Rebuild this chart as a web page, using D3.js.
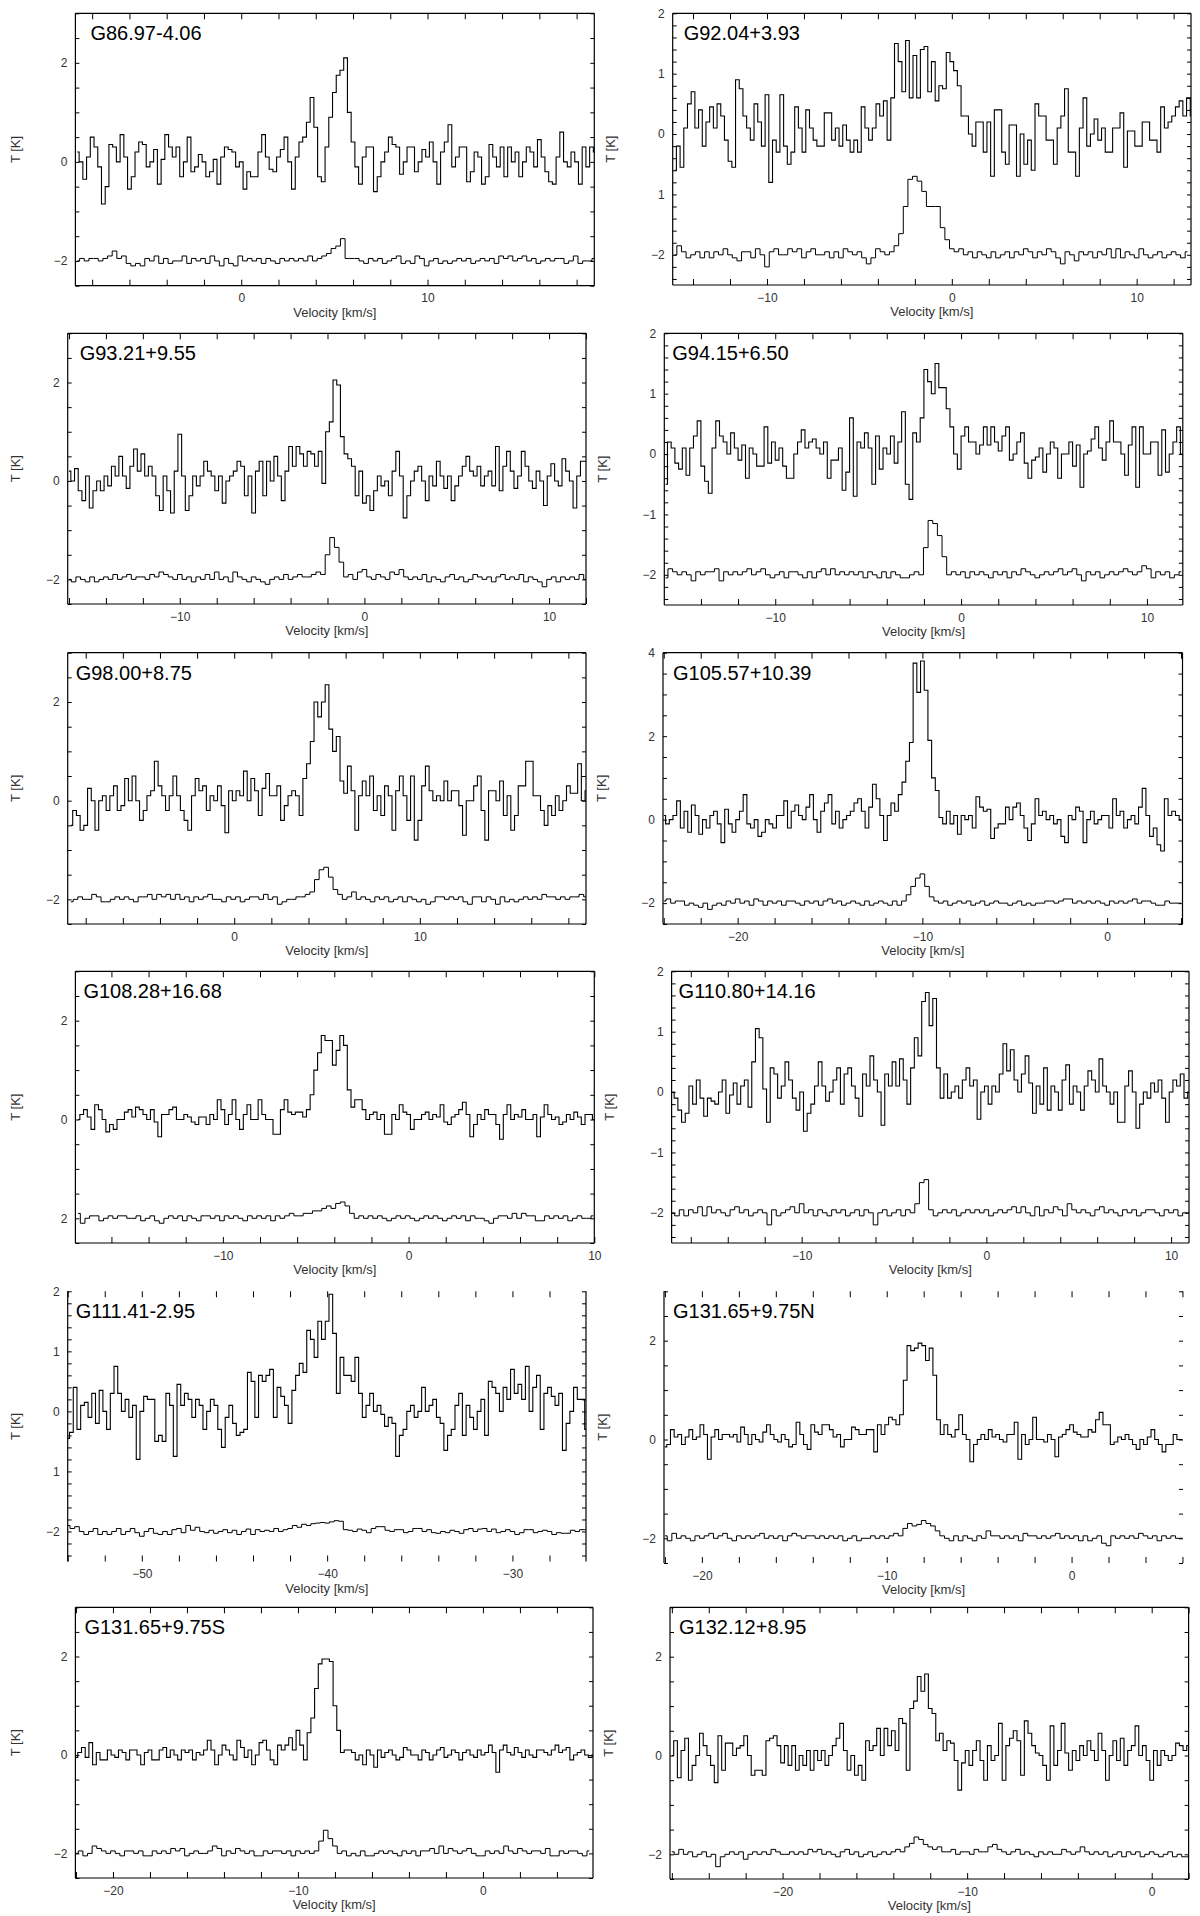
<!DOCTYPE html>
<html><head><meta charset="utf-8">
<script src="https://cdn.jsdelivr.net/npm/d3@7"></script>
<style>body{margin:0;background:#fff}svg{display:block}</style>
</head><body>
<svg id="c" width="1200" height="1916"></svg>
<script>
// ---------- data ----------
const UP_STEP = 0.2, LO_STEP = 0.25;   // channel widths, km/s
const names = ["G86.97-4.06","G92.04+3.93","G93.21+9.55","G94.15+6.50","G98.00+8.75","G105.57+10.39",
  "G108.28+16.68","G110.80+14.16","G111.41-2.95","G131.65+9.75N","G131.65+9.75S","G132.12+8.95"];

const P1_up = [0.2,0.0,-0.35,0.1,0.5,0.3,-0.1,-0.85,-0.5,0.35,0.3,0.0,0.55,0.1,-0.55,-0.3,0.2,0.4,0.35,-0.1,0.0,0.25,-0.45,0.05,0.55,0.3,0.1,0.3,-0.3,0.0,0.5,-0.2,-0.1,0.15,0.0,-0.3,-0.2,0.05,-0.45,0.1,0.3,0.25,0.2,-0.1,0.0,-0.55,-0.2,-0.3,-0.3,0.2,0.55,0.1,-0.15,-0.2,0.1,0.25,0.5,0.0,-0.55,0.1,0.4,0.5,0.8,1.3,0.7,-0.3,-0.4,0.3,0.9,1.4,1.75,1.85,2.1,1.0,0.4,-0.1,-0.45,0.1,0.3,0.3,-0.6,-0.3,0.0,0.2,0.5,0.35,0.3,-0.25,0.0,0.3,0.3,-0.2,0.0,0.25,0.1,0.4,0.0,-0.45,0.2,0.4,0.75,-0.1,0.1,0.3,0.3,-0.4,-0.2,0.2,0.1,-0.45,-0.3,0.35,0.1,-0.1,0.3,-0.3,0.3,0.0,0.2,-0.3,0.0,0.3,0.2,-0.1,0.45,0.1,-0.2,-0.4,-0.45,0.1,0.6,0.0,-0.1,0.2,0.0,-0.45,0.3,-0.1,0.3,0.2];
const P1_lo = [-2.0,-1.95,-2.0,-1.95,-1.95,-2.0,-1.95,-1.9,-1.8,-1.95,-1.9,-2.05,-2.1,-2.05,-2.1,-1.95,-2.0,-1.9,-2.05,-1.95,-2.05,-2.0,-2.0,-1.9,-2.05,-1.95,-2.0,-1.95,-2.05,-1.9,-2.0,-2.1,-1.95,-2.05,-2.1,-1.9,-2.0,-1.95,-2.0,-1.95,-2.05,-1.95,-2.0,-2.05,-1.95,-2.0,-1.95,-2.0,-1.95,-2.0,-1.9,-2.0,-1.95,-1.9,-1.85,-1.75,-1.7,-1.55,-1.95,-1.95,-1.95,-2.0,-2.05,-1.95,-2.0,-1.95,-2.05,-2.0,-1.95,-1.9,-2.05,-2.0,-2.05,-1.9,-1.95,-2.1,-2.0,-1.95,-2.05,-2.0,-2.05,-2.0,-1.95,-2.0,-1.95,-2.05,-2.0,-1.95,-2.0,-1.95,-2.05,-1.9,-1.95,-1.9,-2.0,-1.95,-1.9,-2.0,-1.95,-2.05,-2.0,-1.95,-2.0,-1.95,-1.95,-2.05,-2.0,-1.9,-2.05,-2.0,-2.0,-1.95];

const P2_up = [-0.6,-0.2,-0.55,0.1,0.5,0.7,0.1,0.4,-0.2,0.2,0.45,0.1,0.5,0.3,-0.1,-0.45,-0.55,0.9,0.75,0.3,0.1,-0.1,0.5,0.2,-0.2,0.65,-0.8,-0.1,-0.3,0.65,-0.2,-0.5,-0.3,0.45,0.1,-0.3,0.4,0.1,-0.1,-0.2,-0.2,0.35,0.35,-0.1,0.1,-0.2,0.15,-0.1,-0.3,-0.1,-0.3,0.45,0.1,-0.1,0.1,0.5,0.3,0.55,-0.1,0.6,1.5,1.2,0.7,1.55,0.6,1.3,0.6,1.4,1.45,0.7,1.2,0.55,0.8,0.75,1.35,1.2,1.05,0.8,0.3,0.3,0.0,-0.2,0.2,0.2,-0.3,0.2,-0.7,0.4,0.4,-0.3,-0.5,0.15,0.15,-0.7,0.0,-0.5,-0.1,-0.6,0.5,0.3,0.3,-0.1,-0.1,-0.5,0.1,0.3,0.75,-0.3,-0.3,-0.7,0.1,0.6,-0.2,0.0,0.25,-0.1,0.1,-0.3,-0.3,0.1,0.1,0.35,-0.55,0.05,0.05,-0.2,-0.2,0.2,0.2,-0.1,-0.1,-0.3,0.45,0.1,0.2,0.3,0.45,0.55,0.3,0.6,0.3];
const P2_lo = [-2.0,-1.85,-1.95,-2.05,-2.0,-1.95,-2.05,-1.95,-2.05,-1.95,-2.0,-1.9,-2.0,-2.05,-2.1,-1.95,-1.95,-2.05,-1.9,-2.0,-2.2,-1.95,-1.9,-2.0,-2.0,-1.9,-1.95,-1.9,-2.05,-1.95,-1.9,-2.0,-2.0,-1.95,-2.05,-1.95,-2.05,-1.9,-1.95,-2.0,-1.95,-2.05,-2.15,-2.05,-1.9,-1.95,-2.0,-1.95,-1.85,-1.65,-1.2,-0.75,-0.7,-0.78,-0.95,-1.2,-1.2,-1.2,-1.55,-1.75,-1.9,-1.95,-1.9,-2.0,-1.95,-2.05,-1.95,-2.0,-2.05,-1.95,-2.05,-2.0,-1.95,-2.05,-1.95,-2.0,-1.9,-1.95,-2.05,-1.95,-2.0,-1.9,-1.95,-2.05,-2.15,-1.95,-2.0,-2.1,-1.95,-2.0,-1.95,-2.05,-1.95,-2.0,-1.9,-2.05,-1.9,-2.05,-1.95,-2.0,-2.05,-1.9,-2.0,-2.05,-2.0,-1.95,-2.05,-2.0,-1.95,-2.0,-2.05,-1.95];

const P3_up = [0.2,0.0,0.25,-0.2,-0.4,0.1,-0.55,-0.2,0.0,-0.2,0.1,-0.1,0.3,0.1,0.5,0.1,-0.15,0.3,0.65,0.2,0.55,0.1,0.3,0.1,-0.3,-0.6,0.1,-0.2,-0.65,0.2,0.95,0.1,-0.6,-0.3,0.1,-0.1,0.1,0.4,0.2,0.1,-0.2,0.1,-0.45,0.0,0.1,0.2,0.4,0.3,-0.3,0.1,-0.65,0.2,0.4,-0.3,0.4,0.0,0.5,0.1,-0.4,0.2,0.7,0.3,0.7,0.55,0.3,0.6,0.55,0.3,0.6,-0.05,1.0,1.2,2.05,1.95,0.9,0.55,0.45,0.3,-0.3,0.2,-0.45,-0.3,-0.6,-0.2,0.1,-0.1,0.0,-0.3,0.2,0.6,0.1,-0.75,-0.3,0.0,0.2,0.3,0.0,-0.4,0.1,-0.1,0.4,0.1,-0.15,0.1,-0.4,-0.1,0.1,0.3,0.5,0.2,0.1,0.3,-0.1,0.1,0.2,-0.1,0.7,-0.2,0.3,0.6,0.2,-0.15,0.1,0.6,0.3,0.0,-0.15,0.2,0.0,-0.5,0.1,0.35,0.0,-0.1,0.45,0.2,0.0,-0.55,0.1,0.4,0.4];
const P3_lo = [-2.0,-2.05,-1.95,-2.0,-2.05,-1.95,-2.05,-2.0,-1.95,-2.0,-1.9,-2.0,-1.95,-1.9,-2.0,-1.95,-1.95,-2.0,-1.9,-1.95,-1.85,-1.9,-1.95,-2.0,-1.9,-2.0,-1.95,-2.05,-1.95,-2.0,-1.9,-2.0,-1.85,-2.0,-1.95,-2.05,-1.85,-1.95,-2.0,-2.05,-1.95,-2.0,-2.05,-2.1,-2.0,-1.95,-2.0,-1.9,-2.0,-1.95,-1.9,-1.95,-1.95,-1.9,-1.85,-1.9,-1.5,-1.15,-1.35,-1.65,-1.95,-1.9,-2.0,-1.85,-1.8,-1.95,-2.0,-1.9,-1.95,-2.0,-1.85,-1.9,-1.8,-1.95,-2.0,-1.95,-2.0,-1.9,-2.05,-1.95,-2.0,-2.05,-1.95,-1.9,-2.0,-1.95,-2.05,-2.0,-1.9,-1.95,-2.0,-1.95,-2.05,-1.95,-1.9,-2.0,-1.95,-2.0,-1.9,-2.05,-1.95,-2.0,-2.05,-2.15,-2.0,-1.95,-2.05,-1.95,-2.0,-1.95,-2.0,-1.9,-2.0];

const P4_up = [-0.5,0.2,0.1,-0.15,-0.25,0.1,-0.35,0.1,0.3,0.55,-0.2,-0.45,-0.65,0.1,0.55,0.3,0.2,0.0,0.35,0.1,-0.1,0.15,-0.4,0.1,0.0,-0.2,-0.2,0.45,-0.15,0.2,-0.1,0.1,-0.2,-0.4,-0.4,0.0,0.2,0.4,0.1,0.2,0.25,0.1,0.0,0.2,-0.4,-0.1,-0.1,0.1,-0.6,-0.3,0.6,-0.7,0.2,0.1,0.35,0.1,-0.5,0.3,-0.25,0.1,0.0,0.3,-0.15,0.2,0.7,-0.5,-0.75,0.35,0.2,0.6,1.4,1.2,1.0,1.5,1.1,1.1,0.75,0.45,0.0,-0.25,0.3,0.45,0.2,0.2,0.0,0.15,0.45,0.15,0.45,0.2,0.05,0.3,0.45,-0.1,0.0,0.2,0.35,-0.15,-0.4,-0.1,-0.05,0.1,-0.3,0.0,0.2,0.1,-0.4,0.0,0.0,0.2,-0.2,0.15,-0.55,0.0,0.05,0.25,0.45,0.1,-0.1,0.2,0.55,0.2,0.2,0.0,-0.35,0.15,0.45,-0.55,0.45,0.0,0.0,0.2,0.2,-0.35,0.4,-0.3,0.0,0.2,0.45,0.0];
const P4_lo = [-2.05,-1.9,-1.95,-2.0,-1.95,-2.0,-2.1,-1.95,-2.0,-1.95,-1.95,-1.9,-2.1,-1.95,-2.0,-1.95,-2.0,-1.95,-1.9,-2.0,-1.95,-1.9,-2.0,-2.05,-2.0,-1.95,-2.05,-1.95,-1.95,-2.0,-2.05,-1.95,-2.05,-1.95,-1.9,-2.0,-1.9,-2.0,-1.95,-2.0,-1.95,-2.0,-1.95,-2.05,-1.95,-2.0,-2.05,-1.95,-2.05,-1.95,-2.0,-2.05,-2.05,-2.0,-1.95,-2.0,-1.55,-1.1,-1.15,-1.35,-1.7,-2.0,-1.95,-2.0,-1.95,-2.05,-1.95,-2.0,-1.95,-2.0,-2.05,-1.95,-2.0,-1.95,-2.05,-1.95,-2.0,-1.9,-1.95,-2.0,-2.05,-2.0,-1.95,-2.0,-1.95,-1.9,-2.0,-1.95,-1.9,-2.0,-2.1,-1.95,-2.0,-1.95,-2.05,-2.0,-1.95,-2.0,-1.95,-1.9,-1.95,-2.0,-1.95,-1.85,-1.9,-2.05,-1.95,-2.0,-1.95,-2.05,-2.0,-1.95];

const P5_up = [-0.5,-0.2,-0.3,-0.6,-0.5,0.25,0.0,-0.6,0.0,0.1,-0.2,0.1,0.3,-0.2,-0.1,0.45,0.0,0.5,0.0,-0.4,-0.2,0.1,0.2,0.8,0.3,0.1,-0.2,0.1,0.5,0.1,-0.2,-0.4,-0.6,0.1,0.45,0.2,0.3,-0.2,0.1,0.0,0.3,-0.1,-0.65,0.2,0.0,0.2,0.1,0.6,0.0,0.45,0.2,-0.3,0.25,0.55,0.1,0.1,0.3,-0.4,-0.1,0.1,0.2,0.1,-0.3,0.45,0.75,1.2,2.0,1.7,2.0,2.35,1.45,1.0,1.3,0.4,0.15,0.7,0.2,-0.6,0.1,0.4,0.1,0.5,-0.2,0.1,-0.3,0.3,0.1,-0.6,0.2,0.5,0.1,-0.4,0.5,-0.8,-0.4,0.3,0.7,0.2,0.0,0.1,0.0,0.4,0.0,0.2,0.2,-0.1,-0.7,0.0,0.0,0.3,0.5,-0.2,-0.8,0.2,0.2,0.0,0.4,-0.3,0.1,-0.6,-0.3,0.3,0.3,0.8,0.8,0.1,0.1,-0.2,-0.5,-0.1,-0.3,0.1,-0.2,0.0,0.3,0.15,0.15,0.75,0.0,0.2];
const P5_lo = [-2.05,-2.0,-1.95,-2.0,-2.0,-1.9,-1.95,-2.05,-2.05,-2.0,-1.95,-2.0,-1.95,-2.0,-2.05,-1.95,-1.95,-1.9,-2.0,-1.9,-1.95,-1.9,-2.0,-1.9,-2.0,-1.95,-2.05,-1.95,-2.0,-1.95,-1.9,-2.0,-2.0,-2.05,-1.95,-2.0,-1.95,-2.05,-2.0,-1.95,-1.95,-2.0,-1.9,-2.0,-1.95,-2.1,-2.05,-2.0,-2.0,-1.95,-1.95,-1.9,-1.85,-1.6,-1.4,-1.35,-1.55,-1.8,-1.9,-2.0,-1.95,-1.85,-2.0,-1.95,-2.0,-2.05,-1.95,-2.0,-1.95,-2.05,-2.0,-1.95,-2.05,-1.95,-2.0,-2.05,-2.0,-2.1,-2.05,-1.95,-1.95,-2.0,-1.95,-2.0,-1.95,-2.05,-2.1,-1.95,-1.95,-2.05,-1.95,-2.0,-2.1,-1.95,-2.05,-2.0,-2.05,-2.0,-1.95,-2.0,-1.95,-2.0,-1.9,-1.95,-1.95,-2.0,-1.95,-2.0,-1.95,-1.95,-1.9,-1.95];

const P6_up = [0.1,-0.1,0.0,0.1,0.45,-0.2,0.2,-0.3,0.35,0.1,-0.35,0.0,-0.2,0.1,0.2,-0.1,-0.55,0.25,-0.1,-0.3,0.0,0.2,0.6,-0.1,-0.2,0.0,-0.4,-0.3,0.0,-0.1,-0.2,0.1,0.1,0.45,-0.2,0.2,0.35,0.1,0.0,0.3,0.6,0.0,-0.3,0.2,0.4,0.6,-0.1,0.2,-0.2,0.0,0.1,0.2,0.4,0.5,0.2,-0.2,0.3,0.85,0.5,0.1,-0.5,0.1,0.4,0.2,0.6,0.9,1.4,1.85,3.75,3.05,3.8,3.1,1.9,1.0,0.7,0.05,-0.1,0.2,-0.1,0.1,-0.35,0.1,0.0,0.1,-0.2,0.55,0.3,0.2,0.25,-0.45,-0.2,-0.1,-0.1,0.3,0.0,0.3,0.4,0.1,-0.2,-0.5,-0.1,0.5,0.1,0.2,0.0,0.1,-0.1,0.0,-0.4,-0.55,0.1,0.0,0.3,0.2,-0.55,0.0,0.2,-0.1,0.0,0.1,0.1,-0.2,0.5,0.1,0.2,-0.2,0.0,0.1,-0.1,0.3,0.75,0.1,-0.4,-0.2,-0.6,-0.75,0.5,0.1,0.2,0.1,0.0];
const P6_lo = [-1.95,-1.9,-2.0,-1.95,-1.95,-2.05,-2.0,-2.05,-2.1,-2.0,-2.15,-2.05,-2.0,-2.05,-1.95,-2.0,-1.9,-2.0,-1.95,-2.05,-1.9,-1.95,-2.05,-1.95,-2.0,-1.95,-2.05,-1.95,-1.95,-2.0,-2.05,-1.95,-2.0,-1.95,-2.05,-1.95,-1.9,-2.0,-1.95,-2.05,-2.0,-1.95,-2.0,-2.05,-1.95,-2.05,-2.0,-1.95,-2.0,-2.05,-1.95,-2.05,-1.95,-1.8,-1.6,-1.4,-1.3,-1.6,-1.85,-1.95,-2.0,-1.95,-2.05,-2.0,-1.95,-2.0,-1.95,-2.05,-2.0,-1.95,-2.05,-2.0,-1.95,-2.0,-2.0,-2.05,-2.0,-1.95,-2.05,-2.0,-2.05,-2.0,-2.0,-1.95,-1.95,-2.0,-1.95,-1.9,-1.9,-2.0,-1.95,-2.0,-1.95,-2.0,-1.95,-2.0,-2.05,-1.95,-2.0,-1.95,-2.0,-1.95,-1.9,-2.0,-1.95,-1.95,-2.0,-2.05,-2.05,-1.95,-2.0,-2.0,-2.0];

const P7_up = [0.0,0.1,0.2,0.05,-0.2,0.3,0.2,0.0,-0.25,-0.1,-0.2,0.0,0.0,0.15,0.2,0.05,0.25,0.2,0.1,0.0,0.2,-0.05,-0.35,0.1,0.1,0.2,0.25,0.0,0.0,0.1,0.05,-0.05,-0.1,0.05,0.05,-0.1,0.1,0.0,0.4,0.2,-0.1,0.1,0.4,0.0,-0.2,0.1,0.3,0.0,0.0,0.4,0.1,0.0,0.0,-0.3,-0.3,0.2,0.4,0.15,0.1,0.15,0.15,0.05,0.2,0.5,1.0,1.35,1.7,1.6,1.6,1.1,1.4,1.7,1.5,0.6,0.25,0.4,0.4,0.2,0.0,0.1,0.15,0.0,0.1,-0.3,-0.3,0.1,0.0,0.3,0.15,0.1,-0.2,0.0,0.0,0.1,0.15,0.0,0.1,0.05,0.3,-0.05,-0.1,0.05,0.1,0.2,0.35,0.1,-0.35,-0.1,0.1,0.0,0.2,0.1,0.1,-0.1,-0.4,0.1,0.3,0.0,0.1,0.05,0.2,0.0,0.0,0.1,-0.35,0.05,0.3,0.1,0.0,0.05,-0.1,-0.05,0.1,0.0,0.15,0.05,-0.1,0.1,0.1,0.0];
const P7_lo = [-1.9,-2.1,-2.0,-1.95,-1.95,-2.05,-2.0,-1.95,-2.0,-1.95,-1.95,-2.0,-2.0,-1.95,-2.05,-2.0,-1.95,-2.05,-2.1,-2.0,-1.95,-2.0,-1.95,-2.05,-1.95,-2.0,-2.05,-1.95,-1.95,-2.0,-1.95,-2.05,-1.95,-2.0,-1.95,-2.0,-2.05,-1.95,-2.0,-1.95,-2.0,-1.95,-2.05,-1.95,-2.0,-1.95,-1.9,-1.95,-1.95,-1.9,-1.9,-1.85,-1.85,-1.8,-1.75,-1.8,-1.7,-1.67,-1.75,-1.9,-2.0,-1.95,-2.0,-1.95,-2.0,-1.95,-2.0,-2.05,-2.0,-1.95,-2.0,-1.95,-2.0,-2.05,-2.0,-1.95,-2.0,-1.95,-2.0,-2.05,-2.0,-1.95,-2.0,-1.95,-2.05,-1.95,-2.0,-2.0,-2.05,-2.1,-2.0,-1.95,-1.95,-2.0,-1.9,-2.0,-1.9,-1.95,-1.95,-2.05,-2.05,-1.95,-2.0,-1.95,-2.0,-1.95,-2.05,-2.0,-1.95,-2.0,-2.0,-1.95];

const P8_up = [0.0,-0.1,-0.3,-0.5,-0.35,0.1,-0.2,0.2,-0.1,-0.4,-0.1,-0.15,-0.2,0.0,0.2,-0.35,-0.05,0.15,-0.2,0.1,0.2,-0.25,0.5,1.05,0.9,0.05,-0.5,0.4,0.3,-0.1,0.1,0.5,0.2,-0.1,-0.3,0.0,-0.65,-0.35,-0.2,0.1,0.5,0.1,-0.15,0.0,0.2,0.4,-0.2,0.3,0.4,0.1,-0.1,-0.4,0.3,0.1,0.6,0.2,0.0,-0.55,0.3,0.1,0.5,0.1,0.55,0.2,-0.2,0.4,0.9,0.6,1.5,1.65,1.1,1.55,0.4,-0.1,0.3,-0.1,0.0,0.1,-0.1,0.2,0.4,0.1,0.2,-0.45,0.0,0.1,-0.2,0.1,0.0,0.3,0.8,0.35,0.7,0.2,0.0,0.3,0.6,0.15,-0.35,0.1,-0.2,0.4,-0.3,0.1,0.0,-0.3,0.2,0.45,-0.2,0.1,0.0,-0.3,0.1,0.35,0.2,0.0,0.55,0.1,0.0,-0.2,0.0,-0.5,-0.5,0.1,0.35,0.0,-0.6,-0.2,0.0,-0.1,0.15,0.0,0.2,-0.1,-0.5,0.0,0.2,0.1,0.3,-0.1,0.0];
const P8_lo = [-2.0,-2.05,-1.95,-2.05,-1.95,-2.0,-1.9,-2.05,-1.9,-2.0,-1.95,-2.0,-2.05,-1.95,-1.9,-2.0,-1.95,-2.05,-2.0,-1.95,-2.0,-2.2,-1.95,-2.05,-2.0,-1.95,-1.9,-2.0,-1.85,-2.0,-1.95,-2.05,-1.95,-2.0,-2.05,-1.95,-2.0,-1.95,-2.05,-2.0,-1.95,-2.05,-1.95,-2.0,-2.2,-2.0,-1.95,-2.05,-2.0,-1.95,-2.05,-1.95,-2.0,-1.85,-1.5,-1.45,-1.95,-2.05,-2.0,-1.95,-2.0,-1.95,-2.05,-2.0,-1.95,-2.0,-1.95,-2.0,-1.95,-2.05,-2.0,-1.95,-2.0,-1.95,-1.9,-2.0,-1.9,-2.0,-2.05,-1.9,-2.05,-1.95,-2.0,-1.9,-1.95,-2.05,-1.85,-1.95,-2.0,-1.95,-2.0,-2.05,-1.95,-1.9,-2.0,-1.95,-2.0,-2.05,-1.95,-2.0,-1.95,-2.05,-2.0,-1.95,-1.95,-2.0,-2.05,-1.95,-2.0,-1.95,-2.05,-2.0,-2.0];

const P9_up = [-0.45,-0.35,0.4,-0.3,0.1,0.15,-0.1,0.3,-0.2,0.35,0.0,-0.3,0.3,0.75,0.3,0.0,0.2,-0.1,0.1,-0.8,0.0,0.25,0.2,0.2,-0.5,-0.4,-0.5,0.3,0.1,-0.75,0.45,0.1,0.3,0.2,-0.1,0.2,0.1,-0.3,0.0,0.2,0.1,-0.3,-0.6,-0.1,0.1,-0.2,-0.4,-0.35,-0.3,0.65,0.5,-0.1,0.6,0.5,0.6,0.7,-0.1,0.4,0.25,0.1,-0.2,0.35,0.6,0.8,0.65,1.35,1.2,0.9,1.5,1.2,1.5,1.95,1.3,0.3,0.9,0.6,0.6,0.5,0.9,0.3,-0.1,0.1,0.3,0.0,0.1,-0.05,-0.25,-0.1,-0.2,-0.75,-0.4,-0.3,0.0,0.1,-0.1,0.0,0.4,0.0,0.1,0.2,-0.1,-0.2,-0.65,-0.4,-0.3,0.1,0.3,-0.4,0.1,-0.1,-0.3,0.0,0.2,-0.4,0.5,0.4,0.3,0.0,0.4,0.2,0.7,0.3,0.45,0.2,0.75,0.0,0.4,0.6,-0.3,0.3,0.4,0.25,0.1,0.3,-0.65,-0.2,0.0,0.4,0.2,0.2,-0.3];
const P9_lo = [-1.9,-1.95,-1.92,-2.0,-2.05,-2.0,-1.95,-2.05,-2.0,-2.05,-2.0,-1.95,-2.05,-2.0,-1.95,-2.02,-2.08,-2.0,-1.95,-2.03,-2.05,-2.0,-2.05,-1.97,-1.95,-2.02,-1.9,-1.98,-1.93,-2.0,-2.02,-1.98,-2.03,-2.0,-1.97,-2.02,-1.98,-2.05,-2.0,-1.96,-2.05,-1.97,-2.0,-1.98,-2.0,-1.95,-2.0,-1.97,-1.95,-1.9,-1.93,-1.88,-1.9,-1.87,-1.86,-1.85,-1.86,-1.84,-1.82,-1.83,-1.97,-1.98,-2.0,-1.96,-1.98,-2.02,-1.95,-1.92,-1.92,-1.98,-2.0,-1.97,-1.97,-2.02,-2.0,-1.95,-1.95,-2.0,-1.97,-2.02,-2.03,-2.0,-2.02,-1.98,-2.0,-2.03,-1.97,-1.95,-2.0,-1.96,-1.95,-2.0,-1.96,-2.02,-2.0,-1.97,-2.0,-2.05,-2.02,-1.97,-1.97,-2.02,-2.0,-1.98,-2.0,-2.05,-2.02,-2.03,-2.03,-1.98,-2.0,-1.97,-1.97];

const P10_up = [-0.15,-0.1,0.2,0.05,0.1,-0.1,0.05,0.2,0.0,0.05,0.3,0.1,-0.4,0.05,0.2,0.0,0.1,0.1,0.05,0.1,-0.05,0.25,0.1,-0.1,0.1,0.0,-0.05,0.15,0.3,0.1,0.0,-0.05,0.1,0.0,-0.15,-0.1,0.35,0.1,-0.1,-0.2,0.3,0.15,0.1,0.3,0.3,0.2,0.05,0.1,-0.15,0.0,0.0,0.25,0.2,0.1,0.1,0.2,0.2,-0.25,0.3,0.1,0.3,0.45,0.4,0.3,0.5,1.2,1.9,1.8,1.85,1.95,1.9,1.6,1.85,1.3,0.4,0.1,0.3,0.1,0.05,0.2,0.5,0.1,0.0,-0.45,-0.1,0.0,0.1,0.0,0.2,0.05,0.1,0.0,-0.05,0.1,0.1,0.35,-0.4,0.1,-0.1,0.0,0.45,0.0,0.0,-0.05,0.1,0.0,-0.35,0.05,0.1,0.2,0.3,0.15,0.1,0.05,0.05,0.2,0.15,0.4,0.55,0.3,0.3,-0.1,-0.05,0.05,0.0,0.1,0.0,-0.1,-0.2,0.0,-0.1,0.05,0.2,0.0,-0.1,-0.25,-0.1,-0.1,0.1,0.0,0.0];
const P10_lo = [-1.95,-2.05,-1.9,-2.0,-1.95,-2.0,-2.05,-1.95,-2.0,-1.95,-1.9,-2.0,-1.95,-1.9,-2.0,-2.05,-1.95,-2.0,-1.95,-2.0,-1.95,-1.9,-2.0,-1.95,-2.0,-1.95,-2.05,-1.95,-1.9,-1.95,-2.0,-1.95,-1.95,-2.0,-1.95,-2.0,-1.95,-2.0,-1.95,-2.05,-2.0,-1.95,-2.05,-2.0,-2.0,-1.95,-2.0,-1.95,-2.0,-1.95,-1.9,-1.95,-1.8,-1.7,-1.75,-1.72,-1.64,-1.7,-1.75,-1.85,-1.95,-2.0,-2.05,-1.95,-2.05,-1.95,-2.0,-2.05,-1.95,-2.0,-1.85,-1.95,-1.95,-2.0,-1.95,-2.0,-1.95,-2.05,-1.9,-1.95,-1.95,-2.0,-1.95,-2.0,-1.95,-1.9,-2.0,-1.95,-2.0,-1.95,-2.05,-1.95,-2.05,-2.0,-1.95,-2.1,-2.15,-1.95,-2.0,-1.95,-2.0,-1.95,-2.0,-1.9,-1.95,-2.0,-1.95,-2.05,-1.95,-2.0,-1.95,-2.0,-2.0];

const P11_up = [-0.05,0.05,0.15,-0.05,0.25,-0.2,0.05,-0.1,-0.1,0.1,0.0,-0.05,0.1,0.05,-0.1,0.1,0.1,0.0,-0.2,0.05,0.1,-0.1,-0.1,0.1,0.15,-0.05,0.1,0.0,-0.1,0.1,0.05,0.1,-0.1,0.05,0.0,0.1,0.3,0.1,-0.2,0.0,0.2,0.1,0.0,-0.1,0.3,0.15,-0.05,0.1,-0.2,0.0,0.25,0.3,0.1,-0.1,-0.2,0.2,0.1,0.2,0.35,0.1,0.5,0.2,-0.1,0.45,0.75,1.35,1.85,1.95,1.95,1.9,1.0,0.5,0.05,0.1,0.1,0.05,-0.1,0.0,-0.2,0.1,0.0,-0.25,0.1,-0.05,0.05,0.1,0.0,-0.1,-0.05,0.15,0.1,0.0,0.0,-0.1,0.1,0.05,-0.1,0.0,0.1,0.15,-0.05,0.0,0.1,0.05,-0.1,0.05,0.1,0.0,-0.05,0.1,0.0,0.05,0.2,0.05,-0.35,0.1,0.2,0.05,0.0,0.15,0.05,-0.05,0.1,0.0,-0.05,0.1,0.1,0.05,0.0,0.1,0.2,0.05,0.1,0.15,-0.1,0.0,0.05,0.1,0.0,-0.05,0.0];
const P11_lo = [-2.0,-1.95,-2.05,-2.0,-1.85,-1.9,-1.95,-2.0,-1.95,-2.0,-2.05,-1.95,-1.95,-2.0,-1.95,-2.05,-2.05,-1.95,-2.0,-1.95,-2.0,-1.9,-1.95,-1.9,-2.05,-2.0,-1.95,-2.0,-2.0,-1.95,-1.85,-1.9,-2.05,-1.95,-2.0,-1.9,-1.95,-2.0,-1.95,-2.05,-2.05,-1.95,-2.0,-1.95,-1.95,-2.0,-1.95,-2.05,-1.95,-2.0,-1.95,-2.0,-1.95,-1.75,-1.53,-1.7,-1.85,-2.0,-1.95,-2.05,-2.0,-2.05,-1.95,-2.05,-2.05,-2.0,-1.95,-2.0,-1.95,-2.0,-2.05,-1.95,-2.0,-1.95,-2.05,-1.95,-1.95,-1.9,-2.0,-1.85,-2.0,-1.9,-1.95,-2.0,-1.95,-1.9,-2.0,-2.05,-2.05,-1.95,-2.0,-1.95,-2.0,-1.85,-1.95,-2.0,-1.9,-1.95,-2.0,-1.95,-1.95,-2.0,-1.9,-2.05,-2.05,-1.95,-2.0,-1.95,-1.95,-2.0,-2.05,-1.95];

const P12_up = [0.0,0.3,-0.45,0.1,0.35,-0.5,-0.2,0.0,0.45,0.2,0.0,-0.2,-0.55,0.4,-0.3,0.25,0.25,0.0,0.15,0.2,0.4,0.0,-0.4,-0.3,-0.3,-0.4,0.3,0.35,0.4,0.2,-0.15,0.2,-0.2,0.2,-0.3,0.0,-0.2,0.1,-0.3,0.1,-0.1,0.1,-0.2,0.0,0.2,0.35,0.65,0.1,-0.3,0.0,-0.4,-0.2,-0.5,0.3,0.1,0.2,0.55,0.0,0.55,0.2,0.5,0.1,0.75,0.65,-0.3,0.95,1.1,1.6,1.3,1.65,0.95,0.85,0.3,0.45,0.1,0.3,0.25,-0.1,-0.7,-0.15,0.1,-0.2,0.1,0.3,-0.1,-0.5,0.2,-0.1,0.0,0.65,-0.5,0.2,0.35,0.5,0.3,-0.4,0.7,0.45,0.2,0.05,0.0,-0.2,-0.5,0.6,-0.2,0.1,0.65,0.05,-0.3,0.1,-0.1,0.2,0.0,0.3,0.1,-0.1,0.45,0.1,-0.5,0.0,0.3,-0.1,0.35,-0.2,0.1,0.2,0.6,0.0,0.2,-0.1,-0.5,0.1,-0.2,0.1,0.0,-0.1,0.0,0.25,0.2,0.1,0.2];
const P12_lo = [-1.95,-2.0,-1.9,-2.0,-1.95,-2.05,-2.0,-1.95,-2.05,-2.0,-2.25,-2.05,-2.0,-1.95,-2.0,-1.95,-2.1,-2.0,-1.95,-2.0,-1.95,-2.0,-1.9,-1.95,-2.0,-2.0,-1.95,-2.0,-1.95,-2.0,-1.9,-1.95,-1.9,-2.0,-1.95,-2.0,-2.05,-1.95,-1.9,-2.0,-1.95,-2.05,-2.0,-1.95,-2.05,-2.0,-1.95,-2.0,-1.95,-1.9,-1.95,-1.85,-1.78,-1.65,-1.7,-1.8,-1.85,-1.9,-1.85,-1.95,-1.95,-1.9,-2.0,-1.95,-1.95,-2.0,-1.9,-1.95,-1.95,-1.85,-1.8,-1.9,-1.95,-2.0,-1.95,-1.9,-2.0,-1.95,-2.0,-2.05,-1.95,-2.0,-1.95,-2.0,-2.0,-1.9,-1.95,-2.0,-1.95,-1.85,-1.95,-2.0,-1.95,-2.0,-1.95,-2.05,-2.0,-1.95,-2.05,-1.95,-2.0,-1.95,-2.05,-2.0,-1.95,-2.0,-2.05,-2.0,-1.95,-2.05,-2.0,-2.05,-2.05];

// first-channel velocities (km/s)
const upStarts = [-8.8,-15.0,-16.0,-15.9,-8.8,-24.0,-17.8,-17.0,-54.0,-22.0,-22.0,-26.0];
const loStarts = [-8.8,-15.0,-16.0,-15.9,-8.8,-24.0,-17.8,-17.0,-54.0,-22.0,-22.0,-26.0];
// axis ranges
const xDomains = [[-8.9,18.95],[-15.1,12.94],[-16.07,12.0],[-15.97,11.93],[-8.97,18.95],[-24.04,4.08],
  [-17.94,10.0],[-17.04,10.97],[-54.0,-26.03],[-22.05,6.03],[-22.03,5.95],[-26.1,2.0]];
const yDomains = [[-2.5,3],[-2.5,2],[-2.5,3],[-2.5,2],[-2.5,3],[-2.5,4],
  [-2.5,3],[-2.5,2],[-2.5,2],[-2.5,3],[-2.5,3],[-2.5,3]];
// tick labels
const xTickLabels = [
  [[0,"0"],[10,"10"]], [[-10,"−10"],[0,"0"],[10,"10"]], [[-10,"−10"],[0,"0"],[10,"10"]],
  [[-10,"−10"],[0,"0"],[10,"10"]], [[0,"0"],[10,"10"]], [[-20,"−20"],[-10,"−10"],[0,"0"]],
  [[-10,"−10"],[0,"0"],[10,"10"]], [[-10,"−10"],[0,"0"],[10,"10"]], [[-50,"−50"],[-40,"−40"],[-30,"−30"]],
  [[-20,"−20"],[-10,"−10"],[0,"0"]], [[-20,"−20"],[-10,"−10"],[0,"0"]], [[-20,"−20"],[-10,"−10"],[0,"0"]]];
const yTickLabels = [
  [[2,"2"],[0,"0"],[-2,"−2"]], [[2,"2"],[1,"1"],[0,"0"],[-1,"1"],[-2,"−2"]], [[2,"2"],[0,"0"],[-2,"−2"]],
  [[2,"2"],[1,"1"],[0,"0"],[-1,"−1"],[-2,"−2"]], [[2,"2"],[0,"0"],[-2,"−2"]], [[4,"4"],[2,"2"],[0,"0"],[-2,"−2"]],
  [[2,"2"],[0,"0"],[-2,"2"]], [[2,"2"],[1,"1"],[0,"0"],[-1,"−1"],[-2,"−2"]], [[2,"2"],[1,"1"],[0,"0"],[-1,"1"],[-2,"−2"]],
  [[2,"2"],[0,"0"],[-2,"−2"]], [[2,"2"],[0,"0"],[-2,"−2"]], [[2,"2"],[0,"0"],[-2,"−2"]]];
const yMinorSteps = [0.5,0.2,0.5,0.2,0.5,0.5,0.5,0.2,0.2,0.5,0.5,0.5];
const ups = [P1_up,P2_up,P3_up,P4_up,P5_up,P6_up,P7_up,P8_up,P9_up,P10_up,P11_up,P12_up];
const los = [P1_lo,P2_lo,P3_lo,P4_lo,P5_lo,P6_lo,P7_lo,P8_lo,P9_lo,P10_lo,P11_lo,P12_lo];

// ---------- layout (pixels) ----------
const boxes = [
  [75.4,13.3,594.3,285.7],[672.7,13.3,1191,285],
  [67.7,333.3,586,604],[664.3,333.3,1182.8,605],
  [67.7,652.7,586,924],[663,652.7,1182.5,924],
  [75.4,971.3,594.3,1243],[671.6,971.3,1189,1243],
  [67.7,1291.3,586,1561.5],[664,1291.3,1183,1563],
  [75.4,1607.3,593,1878],[670,1607.3,1188.6,1879]];
const frameSides = ["ltrb","ltrb","ltrb","ltrb","ltrb","ltrb","ltrb","ltrb","lr","l","ltrb","ltrb"];
const titleDx = [15,11,12,8,8,10,8,7,8,9,9,9];

const FONT = "'Liberation Sans', Arial, Helvetica, sans-serif";
const svg = d3.select("#c");
const defs = svg.append("defs");

names.forEach((name, k) => {
  const [x0,y0,x1,y1] = boxes[k];
  const x = d3.scaleLinear().domain(xDomains[k]).range([x0,x1]);
  const y = d3.scaleLinear().domain(yDomains[k]).range([y1,y0]);
  const g = svg.append("g");
  const cid = "clip" + k;
  defs.append("clipPath").attr("id", cid).append("rect")
    .attr("x", x0).attr("y", y0).attr("width", x1 - x0).attr("height", y1 - y0);

  const mk = (start, step) => d3.line()
    .x((d,i) => x(start + i*step)).y(d => y(d)).curve(d3.curveStep);
  g.append("path").datum(ups[k]).attr("d", mk(upStarts[k], UP_STEP))
    .attr("clip-path", `url(#${cid})`).attr("fill","none").attr("stroke","#000").attr("stroke-width",1.1);
  g.append("path").datum(los[k]).attr("d", mk(loStarts[k], LO_STEP))
    .attr("clip-path", `url(#${cid})`).attr("fill","none").attr("stroke","#000").attr("stroke-width",1.0);

  const xd = xDomains[k], yd = yDomains[k];
  const xt = d3.range(Math.ceil(xd[0]/2)*2, xd[1] + 1e-9, 2);
  const ys = yMinorSteps[k];
  const yt = d3.range(Math.ceil(yd[0]/ys - 1e-9), Math.floor(yd[1]/ys + 1e-9) + 1).map(i => +(i*ys).toFixed(3));
  const xl = new Map(xTickLabels[k].map(([v,t]) => [v, t]));
  const yl = new Map(yTickLabels[k].map(([v,t]) => [v, t]));
  const r3 = d => Math.round(d*1000)/1000;
  const fmtX = d => xl.has(r3(d)) ? xl.get(r3(d)) : "";
  const fmtY = d => yl.has(r3(d)) ? yl.get(r3(d)) : "";

  const style = a => {
    a.select(".domain").remove();
    a.selectAll("line").attr("stroke","#000").attr("stroke-width",1);
    a.selectAll("text").attr("fill","#333").style("font-family", FONT).style("font-size","12px");
  };
  g.append("g").attr("transform",`translate(0,${y1})`)
    .call(d3.axisBottom(x).tickValues(xt).tickSize(-6).tickPadding(8).tickFormat(fmtX)).call(style);
  g.append("g").attr("transform",`translate(0,${y0})`)
    .call(d3.axisTop(x).tickValues(xt).tickSize(-6).tickFormat("")).call(style);
  g.append("g").attr("transform",`translate(${x0},0)`)
    .call(d3.axisLeft(y).tickValues(yt).tickSize(-4).tickPadding(8).tickFormat(fmtY)).call(style);
  g.append("g").attr("transform",`translate(${x1},0)`)
    .call(d3.axisRight(y).tickValues(yt).tickSize(-4).tickFormat("")).call(style);

  const s = frameSides[k];
  const seg = (ax,ay,bx,by) => g.append("line").attr("x1",ax).attr("y1",ay).attr("x2",bx).attr("y2",by)
    .attr("stroke","#000").attr("stroke-width",1.2);
  if (s.includes("l")) seg(x0,y0,x0,y1);
  if (s.includes("r")) seg(x1,y0,x1,y1);
  if (s.includes("t")) seg(x0,y0,x1,y0);
  if (s.includes("b")) seg(x0,y1,x1,y1);

  g.append("text").attr("x", x0 + titleDx[k]).attr("y", y0 + 27).text(name)
    .style("font-family", FONT).style("font-size","20px").attr("fill","#000");
  g.append("text").attr("x",(x0+x1)/2).attr("y", y1 + 31).attr("text-anchor","middle")
    .text("Velocity [km/s]").style("font-family", FONT).style("font-size","13px").attr("fill","#333");
  const tx = x0 < 300 ? 15 : x0 - 62;
  g.append("text").attr("transform",`translate(${tx},${(y0+y1)/2}) rotate(-90)`).attr("text-anchor","middle")
    .attr("dy","0.35em").text("T [K]").style("font-family", FONT).style("font-size","13px").attr("fill","#333");
});
</script>
</body></html>
